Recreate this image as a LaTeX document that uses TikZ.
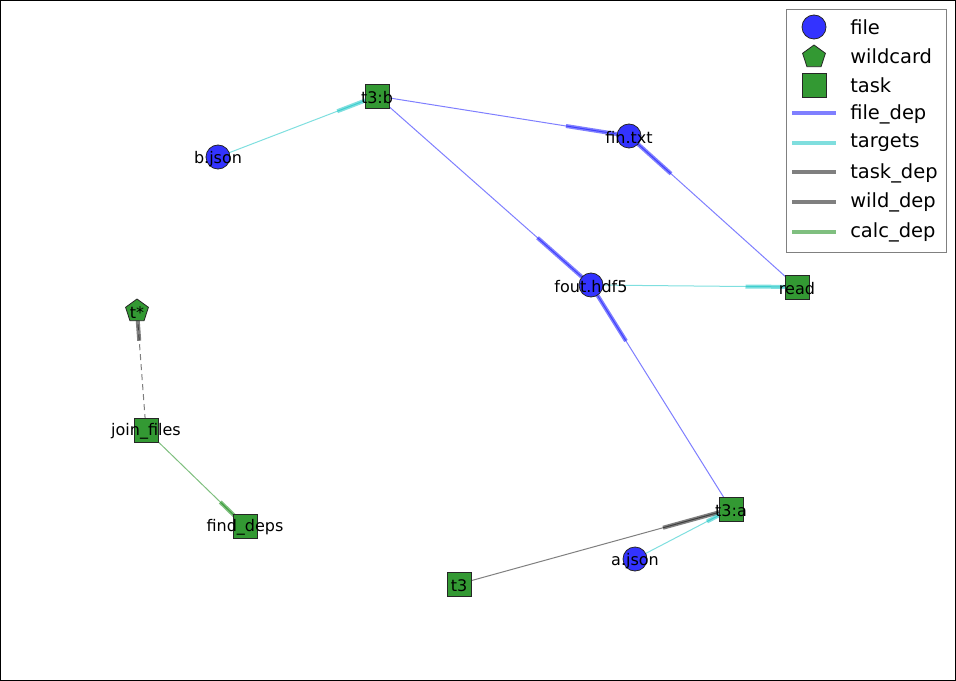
\documentclass[tikz,border=0pt]{standalone}
\usepackage{fontspec}
\setmainfont{DejaVu Sans}
\usetikzlibrary{shapes.geometric,calc,backgrounds}
\definecolor{fileblue}{RGB}{51,51,255}
\definecolor{taskgreen}{RGB}{51,153,51}
\definecolor{fdepc}{rgb}{0,0,1}
\definecolor{targc}{rgb}{0,0.75,0.75}
\definecolor{tdepc}{rgb}{0,0,0}
\definecolor{cdepc}{rgb}{0,0.5,0}
\definecolor{legc}{RGB}{128,128,128}
\newcommand\lblfont{\fontsize{12}{14}\selectfont}
\newcommand\legfont{\fontsize{14.6}{17}\selectfont}
\tikzset{
  filenode/.style={circle, draw=black!85, line width=0.6pt, fill=fileblue, minimum size=18pt, inner sep=0pt},
  tasknode/.style={rectangle, draw=black!85, line width=0.6pt, fill=taskgreen, minimum size=18pt, inner sep=0pt},
  wildnode/.style={regular polygon, regular polygon sides=5, draw=black!85, line width=0.6pt, fill=taskgreen, minimum size=18pt, inner sep=0pt},
  lbl/.style={label={[font=\lblfont, text=black, inner sep=0pt, yshift=-1.2pt]center:#1}},
  thinedge/.style={line width=0.75pt, draw opacity=0.5},
  thickedge/.style={line width=3pt, draw opacity=0.5},
  fdep/.style={draw=fdepc},
  targ/.style={draw=targc},
  tdep/.style={draw=tdepc},
  cdep/.style={draw=cdepc},
  wdash/.style={dash pattern=on 4.5pt off 3pt},
  legtext/.style={anchor=west, font=\legfont, inner sep=0pt},
  legline/.style={line width=3pt, draw opacity=0.5},
}
\newcommand\depedge[4][]{%
  \draw[thinedge, #2, #1] (#3.center) -- (#4.center);
  \draw[thickedge, #2] ($(#3.center)!0.75!(#4.center)$) -- (#4.center);
}
\begin{document}
\begin{tikzpicture}[x=0.75pt, y=-0.75pt]
\useasboundingbox (0,0) rectangle (956,681);
\draw[black, line width=0.75pt] (0.5,0.5) rectangle (955.5,680.5);

% nodes
\node[tasknode, lbl={t3:b}] (t3b) at (377,96) {};
\node[filenode, lbl={b.json}] (bjson) at (218,157) {};
\node[filenode, lbl={fin.txt}] (fin) at (629,136) {};
\node[filenode, lbl={fout.hdf5}] (fout) at (591,285) {};
\node[tasknode, lbl={read}] (read) at (797,287) {};
\node[wildnode, lbl={t*}] (tstar) at (137,311) {};
\node[tasknode, lbl={join\_files}] (join) at (146,430) {};
\node[tasknode, lbl={find\_deps}] (find) at (245,526) {};
\node[tasknode, lbl={t3:a}] (t3a) at (731,509) {};
\node[filenode, lbl={a.json}] (ajson) at (635,559) {};
\node[tasknode, lbl={t3}] (t3) at (459,584) {};

% edges
\begin{pgfonlayer}{background}
\depedge{targ}{bjson}{t3b}
\depedge{fdep}{t3b}{fin}
\depedge{fdep}{read}{fin}
\depedge{fdep}{t3b}{fout}
\depedge{fdep}{t3a}{fout}
\depedge{targ}{fout}{read}
\depedge{tdep}{t3}{t3a}
\depedge{targ}{ajson}{t3a}
\depedge[wdash]{tdep}{join}{tstar}
\depedge{cdep}{join}{find}
\end{pgfonlayer}

% legend
\draw[legc, fill=white, line width=0.75pt] (786,10) rectangle (946,252);
\node[filenode] (lgfile) at (814,27) {};
\node[legtext] (ltfile) at (850,27) {file};
\node[wildnode] (lgwild) at (814,57) {};
\node[legtext] (ltwild) at (850,56) {wildcard};
\node[tasknode] (lgtask) at (814,85) {};
\node[legtext] (lttask) at (850,85) {task};
\coordinate (la1) at (792,113); \coordinate (lb1) at (836,113);
\draw[legline, fdep] (la1) -- (lb1);
\node[legtext] (lt1) at (850,114) {file\_dep};
\coordinate (la2) at (792,143); \coordinate (lb2) at (836,143);
\draw[legline, targ] (la2) -- (lb2);
\node[legtext] (lt2) at (850,143) {targets};
\coordinate (la3) at (792,172); \coordinate (lb3) at (836,172);
\draw[legline, tdep] (la3) -- (lb3);
\node[legtext] (lt3) at (850,173) {task\_dep};
\coordinate (la4) at (792,202); \coordinate (lb4) at (836,202);
\draw[legline, tdep] (la4) -- (lb4);
\node[legtext] (lt4) at (850,202) {wild\_dep};
\coordinate (la5) at (792,232); \coordinate (lb5) at (836,232);
\draw[legline, cdep] (la5) -- (lb5);
\node[legtext] (lt5) at (850,232) {calc\_dep};
\end{tikzpicture}
\end{document}
